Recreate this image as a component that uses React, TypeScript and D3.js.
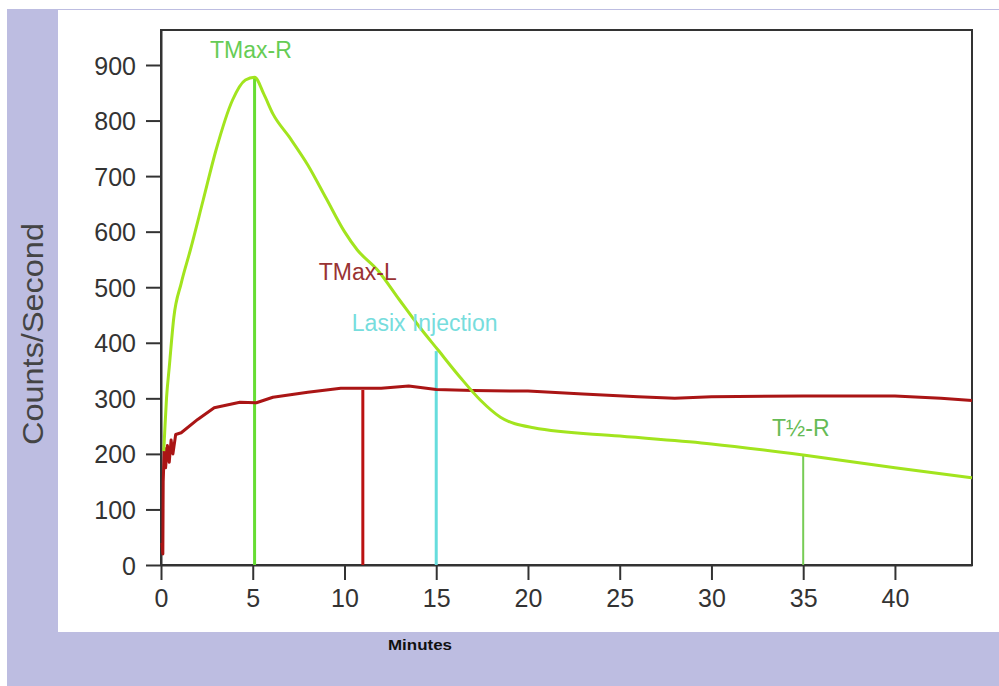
import * as d3 from 'd3';
import { useEffect, useRef } from 'react';

// renogram counts (minutes, counts/s)
const rightMinutes = [0.15, 0.2, 0.3, 0.45, 0.7, 1.1, 1.6, 2.3, 3.0, 3.9, 4.6, 5.1, 5.6, 6.1, 7, 8, 9, 10, 10.7, 11.8, 13, 14.1, 15.1, 16.3, 17.4, 18.5, 20.3, 25, 30, 35, 40, 44.2];
const rightCounts = [205, 238, 300, 356, 446, 507, 567, 657, 747, 837, 873, 878, 848, 812, 770, 720, 660, 600, 567, 531, 477, 428, 387, 338, 297, 266, 247, 232, 218, 198, 175, 157];

const leftMinutes = [0.05, 0.1, 0.12, 0.18, 0.25, 0.35, 0.45, 0.55, 0.65, 0.8, 1.1, 2, 2.9, 4.3, 5.2, 6.1, 8, 9.8, 12, 13.5, 15, 17, 20, 23, 26, 28, 30, 35, 40, 42.5, 44.2];
const leftCounts = [40, 20, 150, 210, 175, 215, 185, 225, 200, 235, 238, 262, 283, 293, 292, 302, 311, 318, 318, 322, 316, 314, 313, 308, 303, 300, 303, 304, 304, 300, 296];

const markerNames = ['TMax-R', 'TMax-L', 'Lasix Injection', 'T½-R'];
const markerMinutes = [5.1, 11, 15, 35];
const markerTops = [878, 315, 385, 197];
const labelMinutes = [4.9, 8.6, 10.4, 33.3];
const labelCounts = [912, 513, 421, 232];

const xTicks = [0, 5, 10, 15, 20, 25, 30, 35, 40];
const yTicks = [0, 100, 200, 300, 400, 500, 600, 700, 800, 900];

const markerColors = ['#66dd33', '#bb1111', '#66dddd', '#77cc55'];
const markerWidths = [3, 3, 3, 2];
const labelColors = ['#66cc55', '#993333', '#77dddd', '#66bb55'];
const labelAnchors = ['middle', 'start', 'start', 'start'];

function App() {
    const svgRef = useRef<SVGSVGElement>(null);

    useEffect(() => {
        const w = 999;
        const h = 686;
        const svg = d3.select(svgRef.current);
        svg.selectAll('*').remove();
        svg.attr('width', w).attr('height', h);

        const font = 'Liberation Sans, Arial, sans-serif';

        svg.append('rect').attr('width', w).attr('height', h).attr('fill', '#fff');
        svg.append('rect').attr('x', 7).attr('y', 9).attr('width', w - 7).attr('height', h - 9).attr('fill', '#bdbde1');
        svg.append('rect').attr('x', 58).attr('y', 10).attr('width', w - 58).attr('height', 622).attr('fill', '#fff');

        const x = d3.scaleLinear().domain([0, 44.2]).range([161, 972]);
        const y = d3.scaleLinear().domain([0, 963]).range([565, 30]);

        // frame
        svg.append('rect')
            .attr('x', x(0))
            .attr('y', y(963))
            .attr('width', x(44.2) - x(0))
            .attr('height', y(0) - y(963))
            .attr('fill', 'none')
            .attr('stroke', '#333')
            .attr('stroke-width', 2);

        const xAxis = svg.append('g')
            .attr('transform', `translate(0, ${y(0)})`)
            .call(d3.axisBottom(x).tickValues(xTicks).tickSize(15).tickPadding(9).tickSizeOuter(0));
        const yAxis = svg.append('g')
            .attr('transform', `translate(${x(0)}, 0)`)
            .call(d3.axisLeft(y).tickValues(yTicks).tickSize(15).tickPadding(10).tickSizeOuter(0));

        [xAxis, yAxis].forEach((g) => {
            g.select('.domain').attr('stroke', '#333').attr('stroke-width', 2);
            g.selectAll('.tick line').attr('stroke', '#333').attr('stroke-width', 2);
            g.selectAll('.tick text')
                .attr('fill', '#333')
                .style('font-family', font)
                .style('font-size', '25px');
        });
        yAxis.selectAll('.tick text').attr('dy', '0.36em');

        // marker lines
        markerMinutes.forEach((m, i) => {
            svg.append('line')
                .attr('x1', x(m))
                .attr('x2', x(m))
                .attr('y1', y(0))
                .attr('y2', y(markerTops[i]))
                .attr('stroke', markerColors[i])
                .attr('stroke-width', markerWidths[i]);
        });

        const line = d3.line<number>()
            .x((d, i) => x(leftMinutes[i]))
            .y((d) => y(d));
        svg.append('path')
            .attr('d', line(leftCounts))
            .attr('fill', 'none')
            .attr('stroke', '#aa1515')
            .attr('stroke-width', 3)
            .attr('stroke-linejoin', 'round');

        const greenLine = d3.line<number>()
            .x((d, i) => x(rightMinutes[i]))
            .y((d) => y(d))
            .curve(d3.curveMonotoneX);
        svg.append('path')
            .attr('d', greenLine(rightCounts))
            .attr('fill', 'none')
            .attr('stroke', '#a2e41e')
            .attr('stroke-width', 3)
            .attr('stroke-linejoin', 'round');

        markerNames.forEach((name, i) => {
            svg.append('text')
                .attr('x', x(labelMinutes[i]))
                .attr('y', y(labelCounts[i]))
                .attr('text-anchor', labelAnchors[i])
                .attr('fill', labelColors[i])
                .style('font-family', font)
                .style('font-size', '23px')
                .text(name);
        });

        svg.append('text')
            .attr('transform', 'rotate(-90)')
            .attr('x', -334)
            .attr('y', 43)
            .attr('text-anchor', 'middle')
            .attr('fill', '#444')
            .attr('textLength', 222)
            .attr('lengthAdjust', 'spacingAndGlyphs')
            .style('font-family', font)
            .style('font-size', '29px')
            .text('Counts/Second');

        svg.append('text')
            .attr('x', 388)
            .attr('y', 650)
            .attr('fill', '#111')
            .attr('textLength', 64)
            .attr('lengthAdjust', 'spacingAndGlyphs')
            .style('font-family', font)
            .style('font-size', '15px')
            .style('font-weight', 'bold')
            .text('Minutes');
    }, []);

    return (
        <div style={{ position: 'absolute', left: 0, top: 0 }}>
            <svg ref={svgRef}></svg>
        </div>
    );
}

export default App;
